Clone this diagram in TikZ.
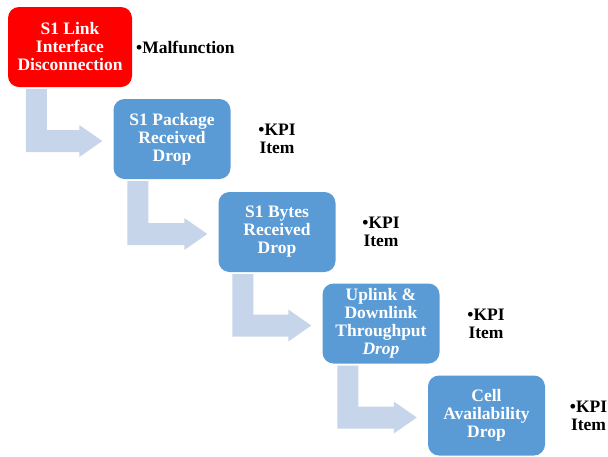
\documentclass[tikz,border=0pt]{standalone}
\usepackage{fontspec}
\setmainfont{Liberation Serif}
\usetikzlibrary{calc}

\definecolor{stepred}{HTML}{FF0000}
\definecolor{stepblue}{HTML}{5B9BD5}
\definecolor{flowfill}{HTML}{C6D5EA}

\tikzset{
  stepbox/.style={fill=stepblue, rounded corners=11pt, minimum width=117pt,
    minimum height=80pt, inner sep=0pt, align=center, text=white,
    font=\fontsize{17.5}{18}\selectfont\bfseries},
  alertbox/.style={stepbox, fill=stepred, minimum width=124pt},
  note/.style={inner sep=0pt, align=center, text=black,
    font=\fontsize{17.5}{18}\selectfont\bfseries},
}

% Bent (L-shaped) block arrow from the bottom of #1 to the left side of #2;
% #3 is the horizontal offset of the down-going bar from #1's left edge.
\newcommand\bentarrow[3]{%
  \fill[flowfill] let \p1=(#1.south west), \p2=(#2.west) in
    ({\x1+#3},{\y1-2}) -- ({\x1+#3+21},{\y1-2}) -- ({\x1+#3+21},{\y2+9})
    -- ({\x2-34},{\y2+9}) -- ({\x2-34},{\y2+14}) -- ({\x2-11},{\y2-2})
    -- ({\x2-34},{\y2-18}) -- ({\x2-34},{\y2-13}) -- ({\x1+#3},{\y2-13}) -- cycle;
}

\begin{document}
\begin{tikzpicture}[x=1pt, y=-1pt]
  \useasboundingbox (0,0) rectangle (608,456);

  % steps of the cascade
  \node[alertbox] (s1) at (70,47) {S1 Link\\Interface\\Disconnection};
  \node[stepbox] (s2) at (172,139) {S1 Package\\Received\\Drop};
  \node[stepbox] (s3) at (277,232) {S1 Bytes\\Received\\Drop};
  \node[stepbox] (s4) at (381,323.5) {Uplink \&\\Downlink\\Throughput\\\textit{Drop}};
  \node[stepbox] (s5) at (486.5,415.5) {Cell\\Availability\\Drop};

  % connectors between the steps
  \bentarrow{s1}{s2}{18}
  \bentarrow{s2}{s3}{14}
  \bentarrow{s3}{s4}{14}
  \bentarrow{s4}{s5}{15}

  % side notes
  \node[note, anchor=west] (n1) at (136,47) {•Malfunction};
  \node[note] (n2) at (277,139) {•KPI\\Item};
  \node[note] (n3) at (381,232) {•KPI\\Item};
  \node[note] (n4) at (486,323.5) {•KPI\\Item};
  \node[note] (n5) at (588.5,415.5) {•KPI\\Item};
\end{tikzpicture}
\end{document}
